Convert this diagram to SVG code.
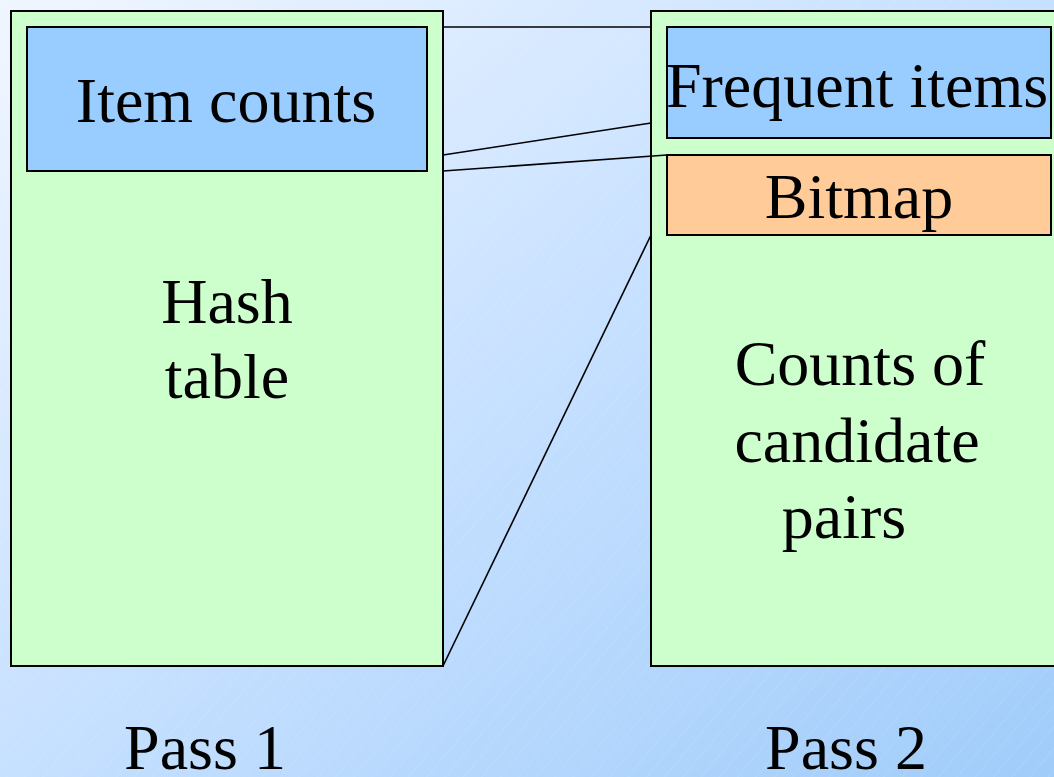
<svg xmlns="http://www.w3.org/2000/svg" width="1054" height="777" viewBox="0 0 1054 777">
  <defs>
    <linearGradient id="bg" x1="0" y1="0" x2="1" y2="1">
      <stop offset="0" stop-color="#F0F6FF"/>
      <stop offset="0.5" stop-color="#C6E0FF"/>
      <stop offset="1" stop-color="#A0CCFA"/>
    </linearGradient>
    <pattern id="hatch" width="14" height="14" patternUnits="userSpaceOnUse" patternTransform="rotate(40)">
      <line x1="0" y1="0" x2="0" y2="14" stroke="#FFFFFF" stroke-opacity="0.18" stroke-width="1"/>
    </pattern>
    <style>
      .box { stroke: #000; stroke-width: 2; }
      .mem { fill: #CCFFCC; }
      .blue { fill: #99CCFF; }
      .orange { fill: #FFCC99; }
      .lbl { font-family: "Liberation Serif", "Times New Roman", serif; font-size: 64px; fill: #000; text-anchor: middle; }
      .link { stroke: #000; stroke-width: 1.6; fill: none; }
    </style>
  </defs>

  <rect width="1054" height="777" fill="url(#bg)"/>
  <rect width="1054" height="777" fill="url(#hatch)"/>

  <!-- Pass 1 memory -->
  <g id="pass1">
    <rect class="box mem" x="11" y="11" width="432" height="655"/>
    <text class="lbl" x="227" y="323">Hash</text>
    <text class="lbl" x="227" y="398">table</text>
  </g>
  <g id="item-counts">
    <rect class="box blue" x="27" y="27" width="400" height="144"/>
    <text class="lbl" x="226" y="122">Item counts</text>
  </g>

  <!-- Pass 2 memory -->
  <g id="pass2">
    <rect class="box mem" x="651" y="11" width="410" height="655"/>
    <text class="lbl" x="860" y="385">Counts of</text>
    <text class="lbl" x="857" y="462">candidate</text>
    <text class="lbl" x="844" y="538">pairs</text>
  </g>
  <g id="frequent-items">
    <rect class="box blue" x="667" y="27" width="384" height="111"/>
    <text class="lbl" x="857" y="107">Frequent items</text>
  </g>
  <g id="bitmap">
    <rect class="box orange" x="667" y="155" width="384" height="80"/>
    <text class="lbl" x="859" y="218">Bitmap</text>
  </g>

  <!-- correspondence lines between the two passes -->
  <g id="connectors">
    <line class="link" x1="443" y1="27" x2="651" y2="27"/>
    <line class="link" x1="443" y1="155" x2="651" y2="123"/>
    <line class="link" x1="443" y1="171" x2="667" y2="155"/>
    <line class="link" x1="443" y1="666" x2="651" y2="235"/>
  </g>

  <g id="captions">
    <text class="lbl" x="205" y="769">Pass 1</text>
    <text class="lbl" x="846" y="769">Pass 2</text>
  </g>
</svg>
